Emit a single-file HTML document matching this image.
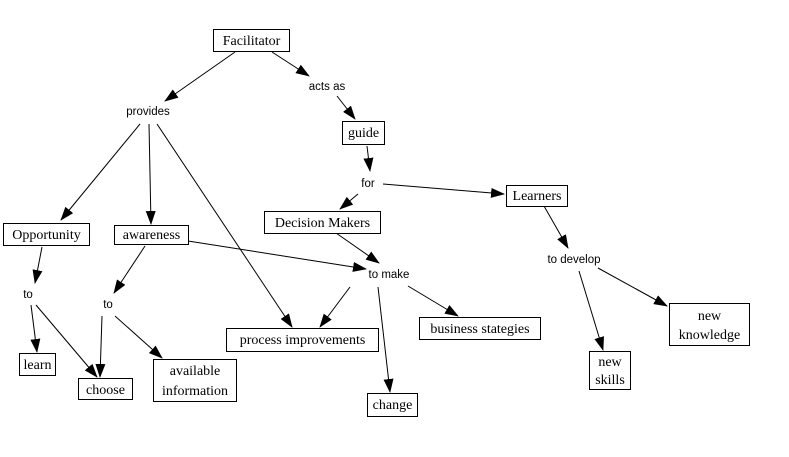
<!DOCTYPE html>
<html><head><meta charset="utf-8"><style>
html,body{margin:0;padding:0;background:#fff;}
svg{display:block;}
.b{fill:#fff;stroke:#000;stroke-width:1;}
.s{font-family:"Liberation Serif",serif;font-size:14px;fill:#000;text-anchor:middle;}
.l{font-family:"Liberation Sans",sans-serif;font-size:11.5px;fill:#000;text-anchor:middle;}
line{stroke:#000;stroke-width:1;}
</style></head><body>
<svg width="789" height="457" viewBox="0 0 789 457" xmlns="http://www.w3.org/2000/svg">
<defs><marker id="a" markerWidth="14" markerHeight="10" refX="13" refY="5" orient="auto" markerUnits="userSpaceOnUse"><path d="M0,0 L14,5 L0,10 z" fill="#000"/></marker></defs>
<g marker-end="url(#a)">
<line x1="235" y1="52" x2="165" y2="101"/>
<line x1="272" y1="52" x2="309" y2="76"/>
<line x1="337" y1="96" x2="355" y2="119"/>
<line x1="367" y1="146" x2="370" y2="171"/>
<line x1="358" y1="194" x2="340" y2="209"/>
<line x1="383" y1="184" x2="504" y2="194"/>
<line x1="140" y1="124" x2="61" y2="220"/>
<line x1="149" y1="124" x2="151" y2="224"/>
<line x1="157" y1="124" x2="292" y2="327"/>
<line x1="188" y1="241" x2="366" y2="269"/>
<line x1="336" y1="233" x2="379" y2="263"/>
<line x1="350" y1="287" x2="320" y2="327"/>
<line x1="378" y1="287" x2="390" y2="392"/>
<line x1="408" y1="286" x2="458" y2="316"/>
<line x1="145" y1="246" x2="114" y2="293"/>
<line x1="42" y1="247" x2="35" y2="283"/>
<line x1="31" y1="305" x2="37" y2="352"/>
<line x1="36" y1="305" x2="97" y2="377"/>
<line x1="102" y1="316" x2="100" y2="377"/>
<line x1="115" y1="316" x2="162" y2="358"/>
<line x1="544" y1="206" x2="568" y2="248"/>
<line x1="579" y1="271" x2="603" y2="350"/>
<line x1="598" y1="268" x2="667" y2="306"/>
</g>
<rect class="b" x="213.5" y="29.5" width="76" height="22"/><text class="s" x="251.5" y="45">Facilitator</text>
<rect class="b" x="342.5" y="121.5" width="42" height="23"/><text class="s" x="363.5" y="137">guide</text>
<rect class="b" x="264.5" y="211.5" width="116" height="22"/><text class="s" x="322.5" y="227">Decision Makers</text>
<rect class="b" x="506.5" y="185.5" width="61" height="21"/><text class="s" x="537" y="200">Learners</text>
<rect class="b" x="3.5" y="223.5" width="86" height="22"/><text class="s" x="46.5" y="239">Opportunity</text>
<rect class="b" x="114.5" y="225.5" width="74" height="19"/><text class="s" x="151.5" y="239">awareness</text>
<rect class="b" x="19.5" y="353.5" width="36" height="22"/><text class="s" x="37.5" y="369">learn</text>
<rect class="b" x="78.5" y="378.5" width="54" height="21"/><text class="s" x="105.5" y="394">choose</text>
<rect class="b" x="153.5" y="359.5" width="83" height="42"/><text class="s" x="195" y="375">available</text><text class="s" x="195" y="395">information</text>
<rect class="b" x="226.5" y="328.5" width="152" height="23"/><text class="s" x="302.5" y="344">process improvements</text>
<rect class="b" x="419.5" y="317.5" width="121" height="22"/><text class="s" x="480" y="333">business stategies</text>
<rect class="b" x="367.5" y="393.5" width="50" height="23"/><text class="s" x="392.5" y="409">change</text>
<rect class="b" x="589.5" y="351.5" width="41" height="38"/><text class="s" x="610" y="366">new</text><text class="s" x="610" y="384">skills</text>
<rect class="b" x="669.5" y="303.5" width="80" height="42"/><text class="s" x="709.5" y="320">new</text><text class="s" x="709.5" y="339">knowledge</text>
<text class="l" x="148" y="115">provides</text>
<text class="l" x="327" y="90">acts as</text>
<text class="l" x="368" y="187">for</text>
<text class="l" x="389" y="278">to make</text>
<text class="l" x="574" y="263">to develop</text>
<text class="l" x="28" y="298">to</text>
<text class="l" x="108" y="308">to</text>
</svg>
</body></html>
